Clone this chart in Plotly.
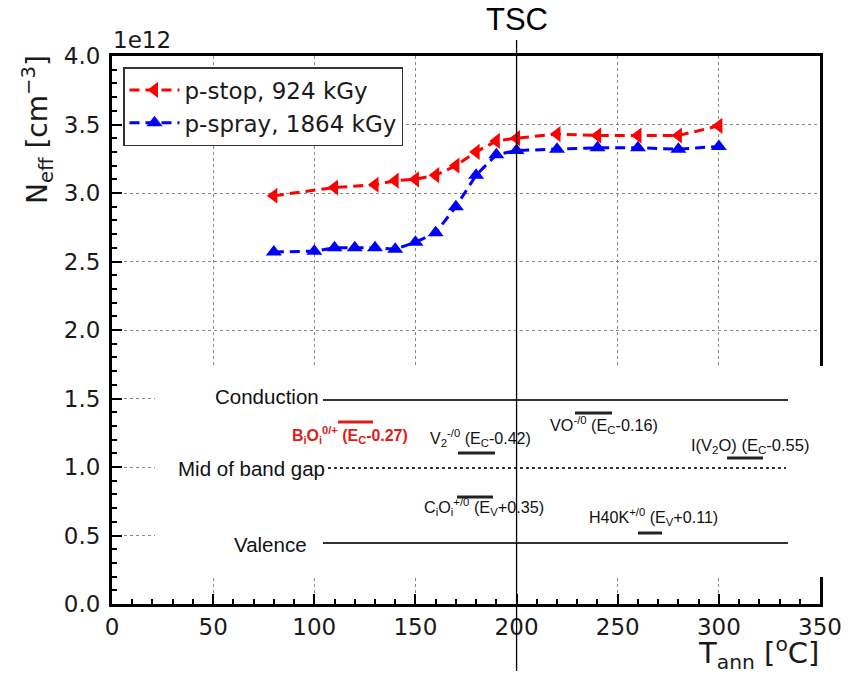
import plotly.graph_objects as go

# ---------------- data ----------------
stop_T = [80, 110, 130, 140, 150, 160, 170, 180, 190, 200, 220, 240, 260, 280, 300]
stop_N = [2.98, 3.04, 3.06, 3.09, 3.10, 3.13, 3.20, 3.30, 3.38, 3.40, 3.43, 3.42, 3.42, 3.42, 3.49]

spray_T = [80, 100, 110, 120, 130, 140, 150, 160, 170, 180, 190, 200, 220, 240, 260, 280, 300]
spray_N = [2.57, 2.575, 2.60, 2.60, 2.60, 2.59, 2.64, 2.71, 2.90, 3.13, 3.28, 3.31, 3.32, 3.33, 3.33, 3.32, 3.34]

x_ticks = [0, 50, 100, 150, 200, 250, 300, 350]
y_ticks = [0.0, 0.5, 1.0, 1.5, 2.0, 2.5, 3.0, 3.5, 4.0]
tsc_T = 200

band_labels = ["Conduction", "Mid of band gap", "Valence"]
defect_labels = [
    "<b>B<sub>i</sub>O<sub>i</sub><sup>0/+</sup> (E<sub>C</sub>-0.27)</b>",
    "V<sub>2</sub><sup>-/0</sup> (E<sub>C</sub>-0.42)",
    "VO<sup>-/0</sup> (E<sub>C</sub>-0.16)",
    "I(V<sub>2</sub>O) (E<sub>C</sub>-0.55)",
    "C<sub>i</sub>O<sub>i</sub><sup>+/0</sup> (E<sub>V</sub>+0.35)",
    "H40K<sup>+/0</sup> (E<sub>V</sub>+0.11)",
]

# ---------------- geometry helpers (pixel -> paper) ----------------
W, H = 857, 674
L, R, T, B = 112, 820, 56, 604
def px(x):
    return (x - L) / (R - L)
def py(y):
    return (B - y) / (B - T)

TICKFONT = dict(family="DejaVu Sans", size=23, color="#1a1a1a")

fig = go.Figure()
fig.add_trace(go.Scatter(
    x=stop_T, y=stop_N, name="p-stop, 924 kGy", mode="lines+markers",
    line=dict(color="#ff0000", width=3, dash="10px,6px"),
    marker=dict(symbol="triangle-left", size=14, color="#ff0000"),
))
fig.add_trace(go.Scatter(
    x=spray_T, y=spray_N, name="p-spray, 1864 kGy", mode="lines+markers",
    line=dict(color="#0000ff", width=3, dash="10px,6px"),
    marker=dict(symbol="triangle-up", size=14, color="#0000ff"),
))

shapes = []
# white overlay box (band diagram inset)
shapes.append(dict(type="rect", xref="paper", yref="paper",
                   x0=px(155), x1=px(835), y0=py(577), y1=py(366),
                   fillcolor="white", line=dict(width=0), layer="above"))
# band lines
shapes.append(dict(type="line", xref="paper", yref="paper", x0=px(323), x1=px(788),
                   y0=py(400), y1=py(400), line=dict(color="#333", width=2), layer="above"))
shapes.append(dict(type="line", xref="paper", yref="paper", x0=px(328), x1=px(786),
                   y0=py(468), y1=py(468), line=dict(color="#333", width=2, dash="dot"), layer="above"))
shapes.append(dict(type="line", xref="paper", yref="paper", x0=px(323), x1=px(788),
                   y0=py(543), y1=py(543), line=dict(color="#333", width=2), layer="above"))
# over/under bars
bars = [
    (338, 373, 422, "#dd1c1c"),
    (458, 495, 453, "#222"),
    (575, 612, 413, "#222"),
    (727, 763, 458, "#222"),
    (457, 493, 497, "#222"),
    (638, 662, 533, "#222"),
]
for x0, x1, y, c in bars:
    shapes.append(dict(type="line", xref="paper", yref="paper", x0=px(x0), x1=px(x1),
                       y0=py(y), y1=py(y), line=dict(color=c, width=3), layer="above"))
# TSC vertical line
shapes.append(dict(type="line", xref="x", yref="paper", x0=tsc_T, x1=tsc_T,
                   y0=py(40), y1=py(671), line=dict(color="black", width=1.3), layer="above"))

ann = []
ann.append(dict(text="TSC", xref="x", yref="paper", x=tsc_T, y=py(19), showarrow=False,
                font=dict(family="Liberation Sans", size=31, color="black"),
                xanchor="center", yanchor="middle"))
ann.append(dict(text="1e12", xref="paper", yref="paper", x=px(111), y=py(40), showarrow=False,
                font=TICKFONT, xanchor="left", yanchor="middle"))
ann.append(dict(text="N<sub>eff</sub> [cm<sup>−3</sup>]", xref="paper", yref="paper",
                x=px(37), y=py(130), showarrow=False, textangle=-90,
                font=dict(family="DejaVu Sans", size=28, color="#1a1a1a"),
                xanchor="center", yanchor="middle"))
ann.append(dict(text="T<sub>ann</sub> [<sup>o</sup>C]", xref="paper", yref="paper",
                x=px(821), y=py(653), showarrow=False,
                font=dict(family="DejaVu Sans", size=29, color="#1a1a1a"),
                xanchor="right", yanchor="middle"))
BANDFONT = dict(family="Liberation Sans", size=20.5, color="#111")
ann.append(dict(text=band_labels[0], xref="paper", yref="paper", x=px(321), y=py(396),
                showarrow=False, font=BANDFONT, xanchor="right", yanchor="middle"))
ann.append(dict(text=band_labels[1], xref="paper", yref="paper", x=px(327), y=py(468),
                showarrow=False, font=BANDFONT, xanchor="right", yanchor="middle"))
ann.append(dict(text=band_labels[2], xref="paper", yref="paper", x=px(309), y=py(544),
                showarrow=False, font=BANDFONT, xanchor="right", yanchor="middle"))
pos = [(290, 435, "#dd1c1c", 15.9), (428, 438, "#111", 16.1), (548, 425, "#111", 16.2),
       (689, 446, "#111", 16.5), (422, 507, "#111", 16.2), (587, 517, "#111", 16.1)]
for txt, (x, y, c, s) in zip(defect_labels, pos):
    ann.append(dict(text=txt, xref="paper", yref="paper", x=px(x), y=py(y), showarrow=False,
                    font=dict(family="Liberation Sans", size=s, color=c),
                    xanchor="left", yanchor="middle"))

fig.update_layout(
    width=W, height=H,
    margin=dict(l=L, r=W - R, t=T, b=H - B),
    paper_bgcolor="white", plot_bgcolor="white",
    shapes=shapes, annotations=ann,
    legend=dict(x=px(123), y=py(67), xanchor="left", yanchor="top",
                bgcolor="white", bordercolor="#333", borderwidth=1.5,
                font=dict(family="DejaVu Sans", size=23, color="#1a1a1a"),
                itemwidth=50, tracegroupgap=0),
    showlegend=True,
)
fig.update_xaxes(range=[0, 350], tickvals=x_ticks, ticktext=[str(v) for v in x_ticks],
                 showline=True, linecolor="black", linewidth=3, mirror=True,
                 ticks="inside", ticklen=10, tickwidth=2, tickcolor="black",
                 tickfont=TICKFONT, showgrid=True, gridcolor="#888", griddash="dot", gridwidth=1,
                 zeroline=False,
                 minor=dict(dtick=10, ticks="inside", ticklen=5, tickwidth=1.5, tickcolor="black", showgrid=False))
fig.update_yaxes(range=[0, 4.0], tickvals=y_ticks, ticktext=[f"{v:.1f}" for v in y_ticks],
                 showline=True, linecolor="black", linewidth=3, mirror=True,
                 ticks="inside", ticklen=10, tickwidth=2, tickcolor="black",
                 tickfont=TICKFONT, showgrid=True, gridcolor="#888", griddash="dot", gridwidth=1,
                 zeroline=False, ticklabelstandoff=4,
                 minor=dict(dtick=0.1, ticks="inside", ticklen=5, tickwidth=1.5, tickcolor="black", showgrid=False))

fig.write_html("out.html")
